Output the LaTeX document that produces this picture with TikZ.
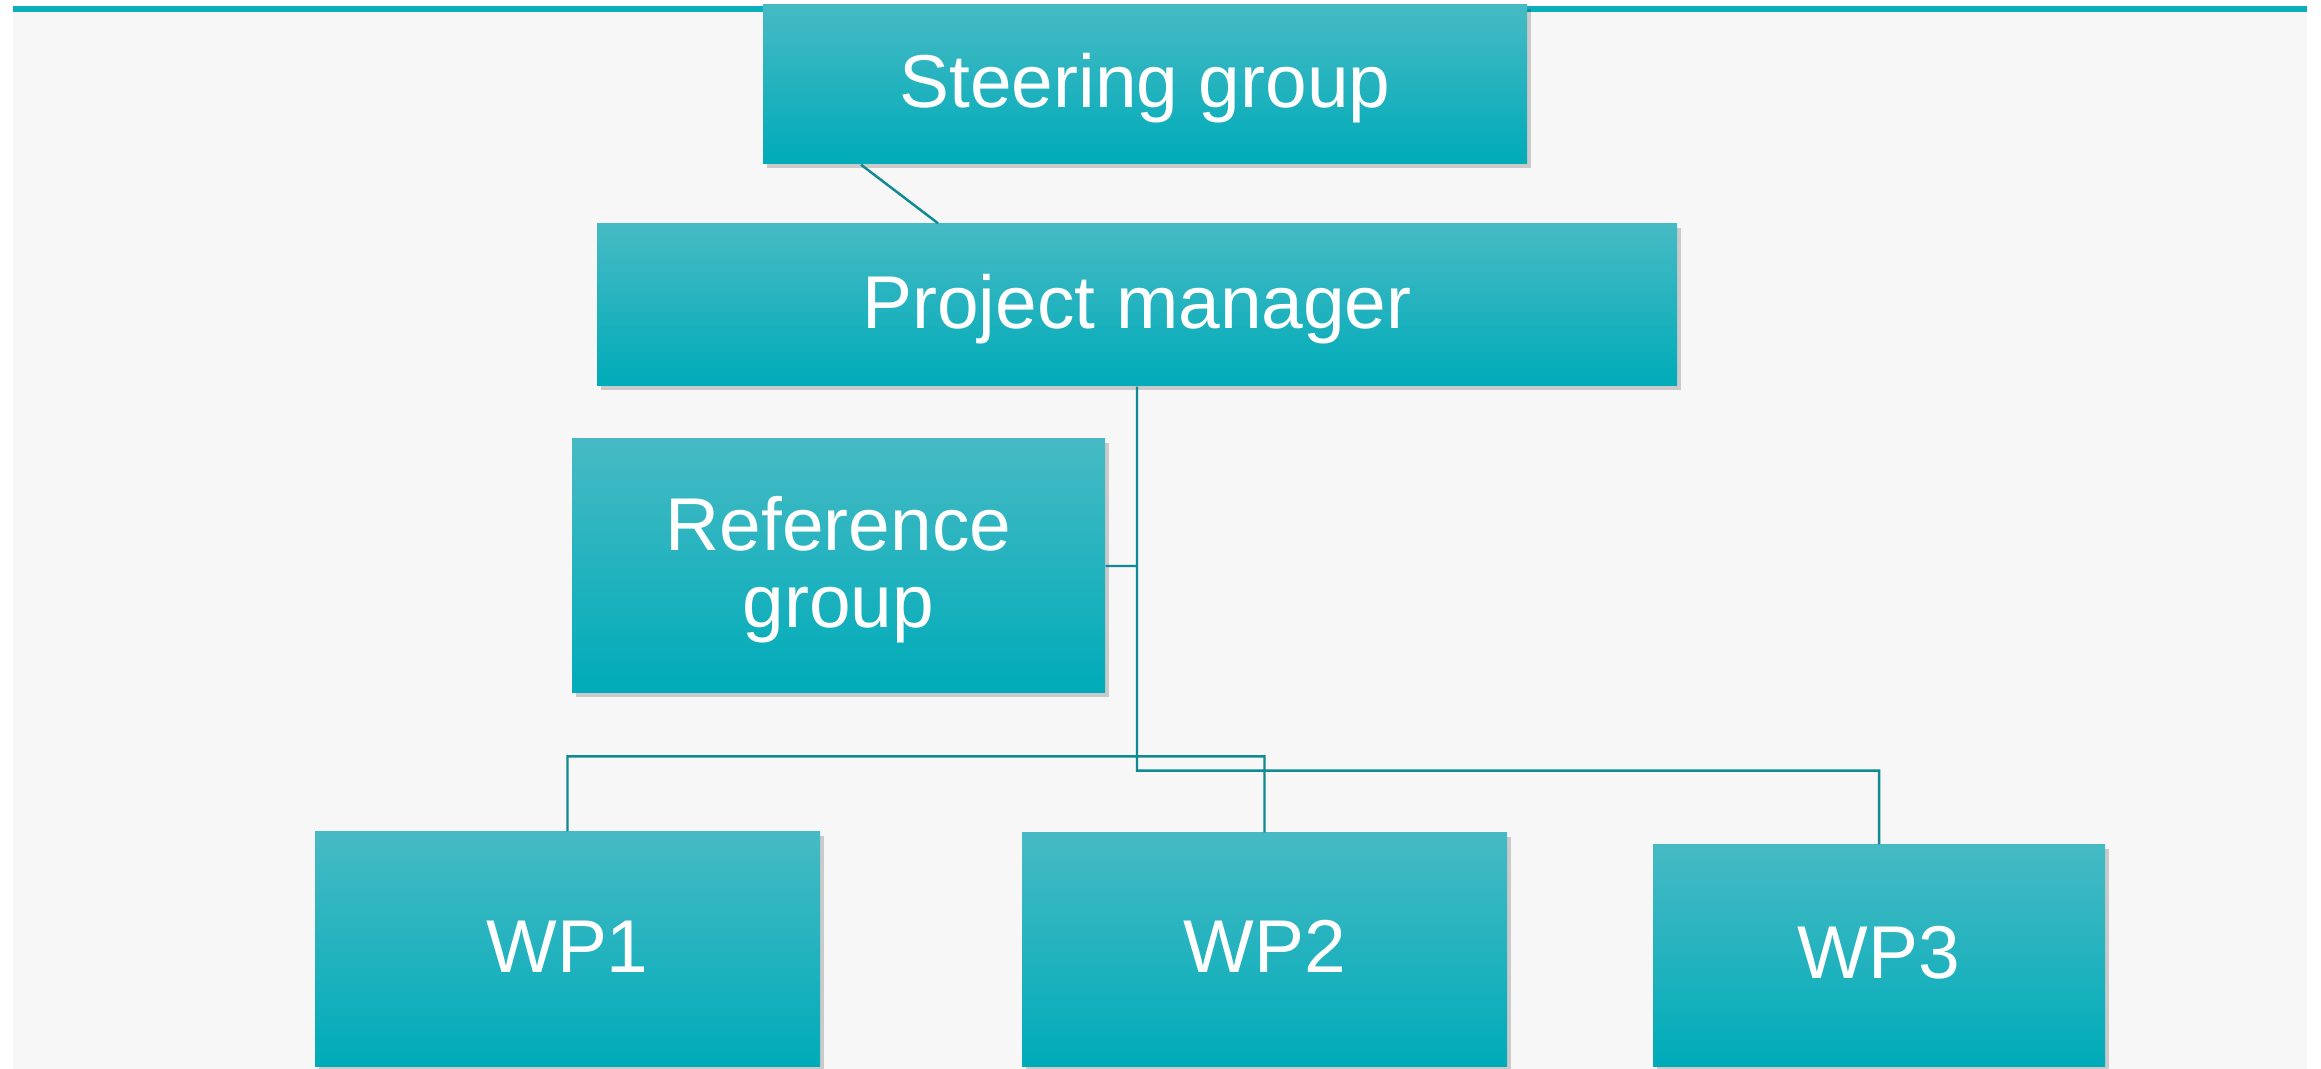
\documentclass[tikz,border=0pt]{standalone}
\usepackage{fontspec}
\setmainfont{Liberation Sans}
\usepackage{xcolor}
\usepackage{tikz}
\usetikzlibrary{shadows}
\definecolor{panelgray}{HTML}{F7F7F7}
\definecolor{barteal}{HTML}{0AAFBB}
\definecolor{linkteal}{HTML}{0E8A93}
\definecolor{boxtop}{HTML}{46BAC4}
\definecolor{boxmid}{HTML}{00B5C2}
\definecolor{boxbot}{HTML}{00ABB9}
\tikzset{
  orgnode/.style={rectangle,inner sep=0pt,text=white,
    top color=boxtop,middle color=boxmid,bottom color=boxbot,
    drop shadow={shadow xshift=0.35mm,shadow yshift=-0.45mm,opacity=0.18,fill=black},
    font=\fontsize{21.3pt}{21.9pt}\selectfont,
    text height=15.8pt,text depth=2.6pt,align=center},
  link/.style={draw=linkteal,line width=0.7pt}
}
\newcommand{\orgbox}[4][]{\node[orgnode,#1] at (#2) (#3) {#4}}

\begin{document}
\begin{tikzpicture}
  \useasboundingbox (0,0) rectangle (23.21,-10.69);
  \fill[white] (0,0) rectangle (23.21,-10.69);
  \fill[panelgray] (0.13,-0.12) rectangle (23.07,-10.69);
  \fill[barteal] (0.13,-0.06) rectangle (23.07,-0.12);
  \orgbox[minimum width=7.64cm,minimum height=1.59cm]{11.45,-0.845}{sg}{Steering group};
  \orgbox[minimum width=10.80cm,minimum height=1.62cm]{11.37,-3.05}{pm}{Project manager};
  \orgbox[minimum width=5.33cm,minimum height=2.54cm,text height=37.7pt]{8.385,-5.66}{rg}{Reference\\group};
  \orgbox[minimum width=5.05cm,minimum height=2.34cm]{5.675,-9.49}{wp1}{WP1};
  \orgbox[minimum width=4.85cm,minimum height=2.33cm]{12.645,-9.495}{wp2}{WP2};
  \orgbox[minimum width=4.52cm,minimum height=2.21cm]{18.79,-9.555}{wp3}{WP3};
  \draw[link]
        ([xshift=-2.84cm]sg.south) -- ([xshift=-1.99cm]pm.north)
        (pm.south) -- ++(0,-3.84) -| (wp3.north)
        (rg.east)  -- (rg.east -| pm.south)
        (wp1.north) -- ++(0,0.75) -| (wp2.north);
\end{tikzpicture}
\end{document}
